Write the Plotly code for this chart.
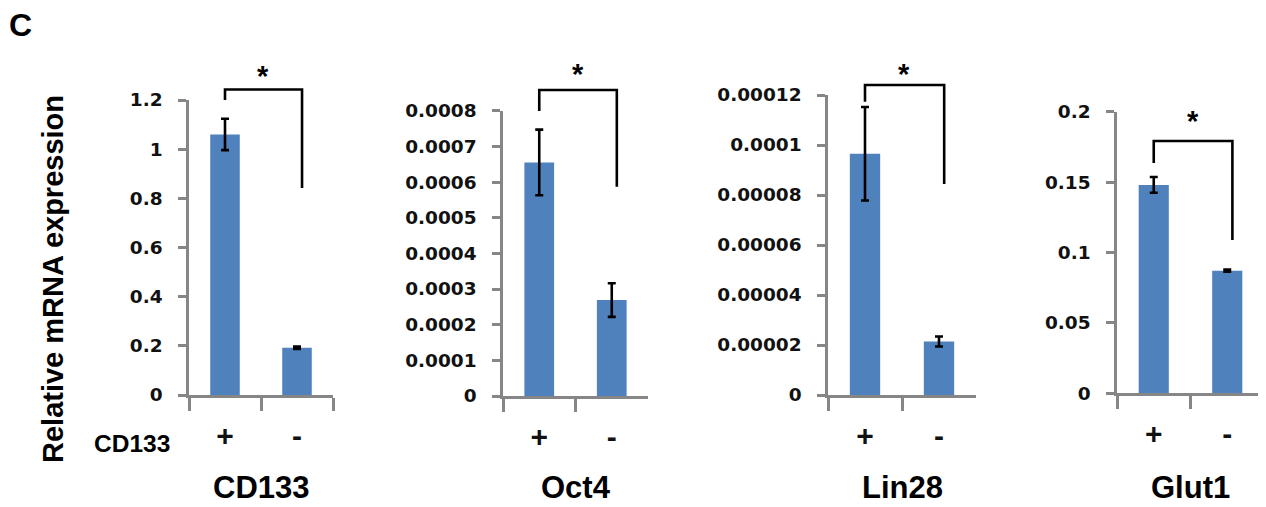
import plotly.graph_objects as go

# ---------------- data ----------------
genes = ["CD133", "Oct4", "Lin28", "Glut1"]
groups = ["+", "-"]
means = [
    [1.06, 0.192],
    [0.000655, 0.000269],
    [0.0000965, 0.0000214],
    [0.148, 0.0871],
]
errors = [
    [0.064, 0.005],
    [0.000092, 0.000047],
    [0.0000187, 0.000002],
    [0.0056, 0.0008],
]
y_max = [1.2, 0.0008, 0.00012, 0.2]
ytick_vals = [
    [0, 0.2, 0.4, 0.6, 0.8, 1.0, 1.2],
    [0, 0.0001, 0.0002, 0.0003, 0.0004, 0.0005, 0.0006, 0.0007, 0.0008],
    [0, 0.00002, 0.00004, 0.00006, 0.00008, 0.0001, 0.00012],
    [0, 0.05, 0.1, 0.15, 0.2],
]
ytick_text = [
    ["0", "0.2", "0.4", "0.6", "0.8", "1", "1.2"],
    ["0", "0.0001", "0.0002", "0.0003", "0.0004", "0.0005", "0.0006", "0.0007", "0.0008"],
    ["0", "0.00002", "0.00004", "0.00006", "0.00008", "0.0001", "0.00012"],
    ["0", "0.05", "0.1", "0.15", "0.2"],
]
# significance brackets (data units)
bracket_top = [1.243, 0.000858, 0.000124, 0.1792]
bracket_left_end = [1.2, 0.000799, 0.0001173, 0.1636]
bracket_right_end = [0.842, 0.000587, 0.0000844, 0.1089]
star_y = [1.296, 0.000902, 0.0001284, 0.1935]
star_text = ["*", "*", "*", "*"]

# ---------------- layout constants ----------------
OFF = 8                      # page body margin of the html page
W, H = 1266 - OFF, 507 - OFF  # figure size so that it ends at the window edge


def fx(px):
    return (px - OFF) / W


def fy(py):
    return 1 - (py - OFF) / H


# window-pixel boxes of each plot area: (left, right, top, bottom)
boxes = [
    (189, 333, 100, 395),
    (503, 648, 110.7, 396),
    (828, 976, 95, 395),
    (1117, 1264, 111.7, 393.3),
]
LEG_X = (0.0, 1.07)  # bracket leg positions (category index units)
BAR = "#4F81BD"
AXIS = "#868686"
TICKFONT = dict(family="DejaVu Sans", size=18.5, color="#111111", weight="bold")
ARIAL = "Liberation Sans, Arial"

fig = go.Figure()

for i, gene in enumerate(genes):
    n = "" if i == 0 else str(i + 1)
    xa, ya = "x" + n, "y" + n
    fig.add_trace(go.Bar(
        x=groups, y=means[i], xaxis=xa, yaxis=ya,
        marker=dict(color=BAR, line=dict(width=0)),
        width=0.41,
        error_y=dict(type="data", array=errors[i], color="black",
                     thickness=2.6, width=4),
        showlegend=False, hoverinfo="skip",
    ))
    l, r, t, b = boxes[i]
    fig.update_layout({
        "xaxis" + n: dict(
            domain=[fx(l), fx(r)], anchor=ya, type="category",
            categoryorder="array", categoryarray=groups,
            range=[-0.5, 1.5], showline=True, linecolor=AXIS, linewidth=2.5,
            ticks="outside", tickson="boundaries", ticklen=13, tickwidth=2.5,
            tickcolor=AXIS, showgrid=False, zeroline=False, automargin=False,
            tickfont=dict(family=ARIAL, size=30, color="#111111", weight="bold"),
            ticklabelstandoff=12, fixedrange=True,
        ),
        "yaxis" + n: dict(
            domain=[fy(b), fy(t)], anchor=xa,
            range=[0, y_max[i]], showline=True, linecolor=AXIS, linewidth=2.5,
            ticks="outside", ticklen=8, tickwidth=2.5, tickcolor=AXIS,
            tickvals=ytick_vals[i], ticktext=ytick_text[i],
            tickfont=TICKFONT, ticklabelstandoff=12, automargin=False,
            showgrid=False, zeroline=False, fixedrange=True,
        ),
    })
    # bracket (x in category units, y in axis-domain fractions)
    yl = bracket_left_end[i] / y_max[i]
    yt = bracket_top[i] / y_max[i]
    yr = bracket_right_end[i] / y_max[i]
    fig.add_shape(
        type="path", xref=xa, yref=ya + " domain",
        path=f"M {LEG_X[0]},{yl} L {LEG_X[0]},{yt} L {LEG_X[1]},{yt} L {LEG_X[1]},{yr}",
        line=dict(color="black", width=2.6), layer="above",
    )
    # star
    fig.add_annotation(x=0.53, y=star_y[i] / y_max[i], xref=xa, yref=ya + " domain",
                       text=star_text[i], showarrow=False, xanchor="center",
                       yanchor="middle",
                       font=dict(family=ARIAL, size=29, color="black", weight="bold"))
    # gene title below
    fig.add_annotation(x=0.5, y=fy(487), xref=xa + " domain", yref="paper",
                       text=gene, showarrow=False, xanchor="center", yanchor="middle",
                       font=dict(family=ARIAL, size=31, color="black", weight="bold"))

# y-axis title
fig.add_annotation(x=fx(53), y=fy(279), xref="paper", yref="paper",
                   text="Relative mRNA expression", textangle=-90, showarrow=False,
                   xanchor="center", yanchor="middle",
                   font=dict(family=ARIAL, size=29, color="black", weight="bold"))
# row label
fig.add_annotation(x=fx(132), y=fy(443), xref="paper", yref="paper",
                   text="CD133", showarrow=False, xanchor="center", yanchor="middle",
                   font=dict(family=ARIAL, size=24.5, color="black", weight="bold"))
# panel letter
fig.add_annotation(x=fx(20), y=fy(25), xref="paper", yref="paper",
                   text="C", showarrow=False, xanchor="center", yanchor="middle",
                   font=dict(family=ARIAL, size=32, color="black", weight="bold"))

fig.update_layout(
    width=W, height=H, margin=dict(l=0, r=0, t=0, b=0, pad=0, autoexpand=False),
    paper_bgcolor="white", plot_bgcolor="white",
)

fig.write_html("out.html")
